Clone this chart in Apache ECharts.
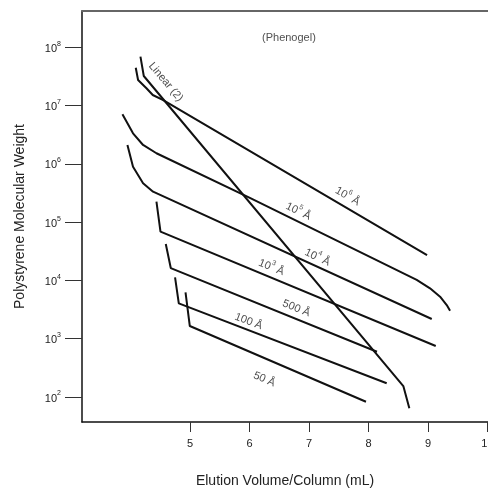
<!DOCTYPE html>
<html>
<head>
<meta charset="utf-8">
<script src="https://cdn.jsdelivr.net/npm/echarts@6/dist/echarts.min.js"></script>
<style>
  html, body { margin: 0; padding: 0; background: #fff; }
  #chart { width: 488px; height: 489px; }
</style>
</head>
<body>
<div id="chart"></div>
<script>
// elution volume (mL) / polystyrene MW
const a1e6X = [4.086, 4.125, 4.266, 4.372, 4.540, 8.985]
const a1e6Mw = [4.47e7, 2.75e7, 1.98e7, 1.52e7, 1.25e7, 2.73e4]
const linearX = [4.165, 4.221, 8.586, 8.687]
const linearMw = [6.9e7, 3.22e7, 154, 64]
const a1e5X = [3.862, 4.040, 4.209, 4.434, 6.005, 8.811, 9.035, 9.204, 9.316, 9.372]
const a1e5Mw = [7.08e6, 3.34e6, 2.11e6, 1.52e6, 2.6e5, 1.02e4, 7.33e3, 5.26e3, 3.78e3, 3.02e3]
const a1e4X = [3.946, 4.040, 4.209, 4.377, 9.064]
const a1e4Mw = [2.11e6, 8.93e5, 4.64e5, 3.33e5, 2.18e3]
const a1e3X = [4.434, 4.502, 9.131]
const a1e3Mw = [2.24e5, 6.86e4, 750]
const a500X = [4.591, 4.675, 8.143]
const a500Mw = [4.22e4, 1.63e4, 598]
const a100X = [4.747, 4.810, 8.306]
const a100Mw = [1.13e4, 4.05e3, 172]
const a50X = [4.923, 4.995, 7.958]
const a50Mw = [6.25e3, 1.65e3, 83]

const xTicks = [5, 6, 7, 8, 9, 10]
const yTickExp = [2, 3, 4, 5, 6, 7, 8]

// curve labels
const labelText = ['{b|10}{s|6}{b| Å}', '{b|10}{s|5}{b| Å}', '{b|10}{s|4}{b| Å}', '{b|10}{s|3}{b| Å}',
  '{b|500 Å}', '{b|100 Å}', '{b|50 Å}', '{b|Linear (2)}', '{b|(Phenogel)}']
const labelX = [7.658, 6.830, 7.150, 6.375, 6.796, 5.992, 6.258, 4.61, 6.662]
const labelMw = [2.92e5, 1.61e5, 2.62e4, 1.77e4, 3.5e3, 2.09e3, 212, 2.64e7, 1.56e8]
const labelAngle = [-30, -26, -25, -22, -22, -21, -23, -50, 0]

const font = '"Liberation Sans", Arial, Helvetica, sans-serif'
const chart = echarts.init(document.getElementById('chart'))

function curve(name, xs, mws) {
  return {
    name,
    type: 'line',
    data: xs.map((x, i) => [x, Math.log10(mws[i])]),
    symbol: 'none',
    lineStyle: { color: '#111', width: 2 },
    silent: true,
    z: 3,
  }
}

const rich = {
  b: { fontSize: 11, lineHeight: 14, verticalAlign: 'bottom', color: '#222', fontFamily: font },
  s: { fontSize: 7, lineHeight: 7, verticalAlign: 'top', color: '#222', fontFamily: font },
}

const xRange = { min: 3.182, max: 10.01 }

chart.setOption({
  animation: false,
  backgroundColor: '#fff',
  textStyle: { fontFamily: font },
  grid: { left: 82, right: 0, top: 11, bottom: 67, containLabel: false, outerBoundsMode: 'none' },
  xAxis: [
    {
      type: 'value',
      ...xRange,
      position: 'bottom',
      name: 'Elution Volume/Column (mL)',
      nameLocation: 'middle',
      nameGap: 52,
      nameTextStyle: { fontSize: 14, color: '#222', fontFamily: font },
      axisLine: { onZero: false, lineStyle: { color: '#111', width: 1.5 } },
      axisTick: { show: true, length: 10, customValues: xTicks, lineStyle: { color: '#333', width: 1 } },
      axisLabel: { customValues: xTicks, margin: 16, fontSize: 11, color: '#222', showMaxLabel: true, hideOverlap: false },
      splitLine: { show: false },
    },
    {
      type: 'value',
      ...xRange,
      position: 'top',
      axisLine: { onZero: false, lineStyle: { color: '#666', width: 2 } },
      axisTick: { show: false },
      axisLabel: { show: false },
      splitLine: { show: false },
    },
  ],
  yAxis: {
    type: 'value',
    min: 1.571,
    max: 8.623,
    name: 'Polystyrene Molecular Weight',
    nameLocation: 'middle',
    nameGap: 55,
    nameTextStyle: { fontSize: 14, color: '#222', fontFamily: font },
    axisLine: { show: true, onZero: false, lineStyle: { color: '#111', width: 1.5 } },
    axisTick: { show: true, length: 17, customValues: yTickExp, lineStyle: { color: '#333', width: 1 } },
    axisLabel: {
      customValues: yTickExp,
      margin: 21,
      formatter: v => `{b|10}{s|${v}}`,
      rich,
    },
    splitLine: { show: false },
  },
  series: [
    curve('10^6 Å', a1e6X, a1e6Mw),
    curve('Linear (2)', linearX, linearMw),
    curve('10^5 Å', a1e5X, a1e5Mw),
    curve('10^4 Å', a1e4X, a1e4Mw),
    curve('10^3 Å', a1e3X, a1e3Mw),
    curve('500 Å', a500X, a500Mw),
    curve('100 Å', a100X, a100Mw),
    curve('50 Å', a50X, a50Mw),
    {
      type: 'scatter',
      symbolSize: 0,
      silent: true,
      z: 4,
      data: labelText.map((t, i) => ({
        value: [labelX[i], Math.log10(labelMw[i])],
        label: { show: true, position: 'inside', rotate: labelAngle[i], formatter: t, rich },
      })),
    },
  ],
})
</script>
</body>
</html>
